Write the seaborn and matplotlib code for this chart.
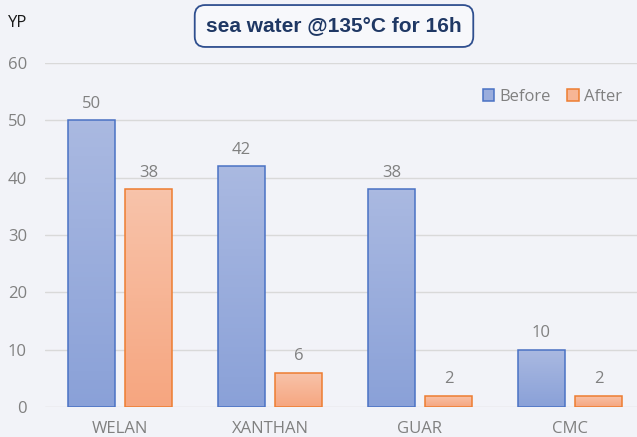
import numpy as np
import pandas as pd
import matplotlib.pyplot as plt
import seaborn as sns
from matplotlib.patches import Patch
from matplotlib.colors import LinearSegmentedColormap

categories = ['WELAN', 'XANTHAN', 'GUAR', 'CMC']
before = [50, 42, 38, 10]
after = [38, 6, 2, 2]
series = ['Before', 'After']

df = pd.DataFrame({
    'polymer': categories * 2,
    'YP': before + after,
    'stage': ['Before'] * 4 + ['After'] * 4,
})

bg = '#F2F3F8'
sns.set_theme(style='white')
plt.rcParams['font.family'] = ['Open Sans', 'DejaVu Sans']

fig = plt.figure(figsize=(6.37, 4.37), dpi=100, facecolor=bg)
ax = fig.add_axes([45 / 637, 30 / 437, 1 - 45 / 637, 344 / 437])
ax.set_facecolor(bg)

edge = {'Before': '#4A72C4', 'After': '#ED7D31'}
grad = {'Before': ('#8AA1D8', '#AAB9E1'), 'After': ('#F6A680', '#F8C3AA')}

sns.barplot(data=df, x='polymer', y='YP', hue='stage', hue_order=series,
            order=categories, width=0.76, gap=0.18, ax=ax, legend=False,
            palette=[grad['Before'][0], grad['After'][0]], saturation=1)

# gradient fill, one per bar
for cont, name in zip(ax.containers, series):
    cmap = LinearSegmentedColormap.from_list(name, grad[name])
    for bar in cont:
        bar.set_edgecolor(edge[name])
        bar.set_linewidth(1.1)
        x0, y0 = bar.get_x(), bar.get_y()
        w, h = bar.get_width(), bar.get_height()
        img = ax.imshow(np.linspace(0, 1, 64).reshape(-1, 1), cmap=cmap,
                        origin='lower', aspect='auto',
                        extent=(x0, x0 + w, y0, y0 + h), zorder=bar.get_zorder())
        img.set_clip_path(bar)
        bar.set_facecolor('none')
        bar.set_zorder(bar.get_zorder() + 0.1)
    ax.bar_label(cont, padding=6, color='#808080', fontsize=12)

ax.set_xlim(-0.5, -0.5 + 592 / 150)
ax.set_ylim(0, 60)
ax.set_yticks(range(0, 61, 10))
ax.yaxis.grid(True, color='#D9D9D9', linewidth=1)
ax.set_axisbelow(True)
for s in ax.spines.values():
    s.set_visible(False)
ax.tick_params(axis='both', length=0, colors='#808080', labelsize=12)
ax.tick_params(axis='y', pad=13)
ax.tick_params(axis='x', pad=10)
ax.set_xlabel('')
ax.set_ylabel('')

handles = [Patch(facecolor=np.mean([[int(c[i:i + 2], 16) for i in (1, 3, 5)] for c in grad[n]], axis=0) / 255,
                 edgecolor=edge[n], linewidth=1.1, label=n) for n in series]
fig.legend(handles=handles, loc='center right', bbox_to_anchor=(1.0, 1 - 97 / 437),
           ncol=2, frameon=False, handlelength=0.7, handleheight=0.7,
           handletextpad=0.3, columnspacing=1.0, labelcolor='#808080', fontsize=12)

fig.text(334 / 637, 1 - 26 / 437, 'sea water @135°C for 16h', ha='center', va='center',
         fontsize=15, fontweight='bold', color='#1F3864', family=['Liberation Sans', 'DejaVu Sans'],
         bbox=dict(boxstyle='round,pad=0.55,rounding_size=0.5', facecolor='#F7F8FB',
                   edgecolor='#2F4F8F', linewidth=1.3))
fig.text(8 / 637, 1 - 23 / 437, 'YP', ha='left', va='center', fontsize=12, color='#1A1A1A')

fig.savefig('out.png', dpi=100, facecolor=bg)
